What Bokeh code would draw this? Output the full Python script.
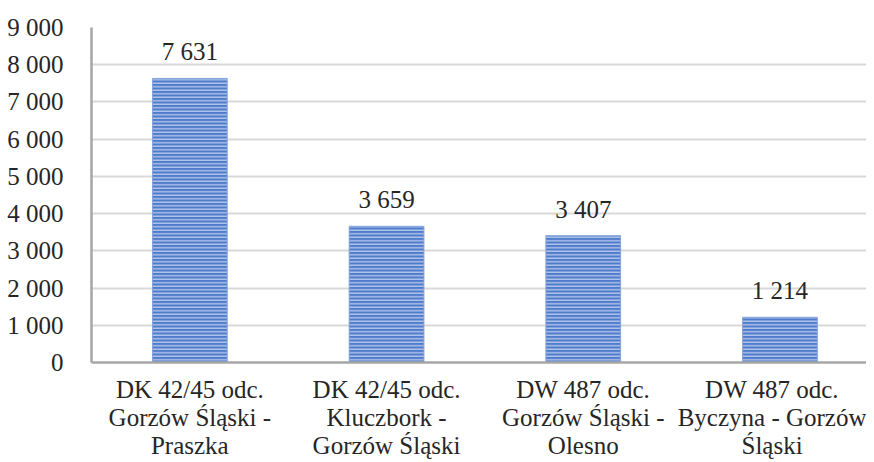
from bokeh.plotting import figure
from bokeh.models import Range1d, FixedTicker, ColumnDataSource, LabelSet
from bokeh.embed import file_html
from bokeh.resources import INLINE

categories = ["DK 42/45 odc.\nGorzów Śląski -\nPraszka",
              "DK 42/45 odc.\nKluczbork -\nGorzów Śląski",
              "DW 487 odc.\nGorzów Śląski -\nOlesno",
              "DW 487 odc.\nByczyna - Gorzów\nŚląski"]
values = [7631, 3659, 3407, 1214]
value_labels = ["7 631", "3 659", "3 407", "1 214"]
y_ticks = [0, 1000, 2000, 3000, 4000, 5000, 6000, 7000, 8000, 9000]
y_tick_labels = ["0", "1 000", "2 000", "3 000", "4 000", "5 000", "6 000", "7 000", "8 000", "9 000"]

FONT = "Liberation Serif"
xs = list(range(len(categories)))
src = ColumnDataSource(dict(x=xs, top=values, lab=value_labels))

p = figure(width=866, height=462, output_backend="svg", toolbar_location=None,
           x_range=Range1d(-0.5, 3.44), y_range=Range1d(0, 9000),
           min_border_left=91, min_border_right=0, min_border_top=27, min_border_bottom=96)
p.outline_line_color = None
p.background_fill_color = "white"

p.vbar(x="x", top="top", width=0.38, source=src, fill_color="#4f7bcb",
       line_color="#86a5dc", line_width=1,
       hatch_pattern="horizontal_line", hatch_color="#bccdee", hatch_scale=3.5, hatch_weight=1.3)

labels = LabelSet(x="x", y="top", text="lab", source=src, text_align="center",
                  text_baseline="alphabetic", y_offset=18, text_font=FONT,
                  text_font_size="25px", text_color="#262626")
p.add_layout(labels)

p.xaxis.ticker = FixedTicker(ticks=xs)
p.xaxis.major_label_overrides = {i: c for i, c in enumerate(categories)}
p.xaxis.major_label_text_font = FONT
p.xaxis.major_label_text_font_size = "25px"
p.xaxis.major_label_text_line_height = 1.05
p.xaxis.major_label_text_color = "#262626"
p.xaxis.major_tick_line_color = None
p.xaxis.minor_tick_line_color = None
p.xaxis.axis_line_color = "#a6a6a6"
p.xaxis.axis_line_width = 2.5
p.xaxis.major_label_standoff = 7

p.yaxis.ticker = FixedTicker(ticks=y_ticks)
p.yaxis.major_label_overrides = {t: l for t, l in zip(y_ticks, y_tick_labels)}
p.yaxis.major_label_text_font = FONT
p.yaxis.major_label_text_font_size = "25px"
p.yaxis.major_label_text_color = "#262626"
p.yaxis.major_tick_line_color = None
p.yaxis.minor_tick_line_color = None
p.yaxis.axis_line_color = "#a6a6a6"
p.yaxis.axis_line_width = 2.5
p.yaxis.major_label_standoff = 22

p.xgrid.grid_line_color = None
p.ygrid.grid_line_color = "#d9d9d9"
p.ygrid.grid_line_width = 2

open("out.html", "w").write(file_html(p, INLINE))
